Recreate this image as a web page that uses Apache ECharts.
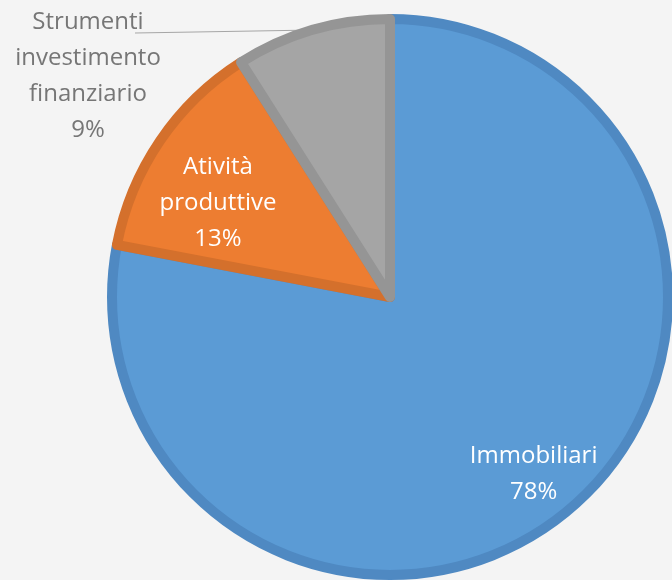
<!DOCTYPE html>
<html>
<head>
<meta charset="utf-8">
<script src="https://cdn.jsdelivr.net/npm/echarts@6/dist/echarts.min.js"></script>
<style>
  html, body { margin: 0; padding: 0; background: #f4f4f4; }
  #chart { width: 672px; height: 580px; }
</style>
</head>
<body>
<div id="chart"></div>
<script>
// dati del grafico
const categories = ['Immobiliari', 'Atività produttive', 'Strumenti investimento finanziario'];
const values = [78, 13, 9];
const fillColors = ['#5b9bd5', '#ed7d31', '#a5a5a5'];
const borderColors = ['#4f89c2', '#d4702c', '#959595'];

const cx = 390, cy = 297;
// quanto spingere verso l'esterno le etichette interne
const pushOut = [1.62, 1.32, 1];
const extraShift = [[-3, 0], [-17, 12], [0, 0]];

let chart = echarts.init(document.getElementById('chart'));

let data = categories.map((name, i) => ({
  name: name,
  value: values[i],
  itemStyle: { color: fillColors[i], borderColor: borderColors[i] },
  label: i == 2 ? { position: 'outside', color: '#767676' } : { position: 'inside', color: '#ffffff' }
}));

let option = {
  backgroundColor: '#f4f4f4',
  animation: false,
  series: [{
    type: 'pie',
    center: [cx, cy],
    radius: 278,
    startAngle: 90,
    clockwise: true,
    itemStyle: { borderWidth: 10, borderJoin: 'round' },
    label: {
      show: true,
      fontFamily: 'Open Sans',
      fontSize: 24,
      lineHeight: 36,
      align: 'center',
      formatter: p => p.name.split(' ').join('\n') + '\n' + p.value + '%'
    },
    labelLine: { show: true, length: 0, length2: 10, lineStyle: { color: '#a6a6a6', width: 1 } },
    labelLayout: function (params) {
      let i = params.dataIndex;
      let r = params.labelRect;
      if (i == 2) {
        return {
          x: 88, y: 4, align: 'center', verticalAlign: 'top',
          labelLinePoints: [params.labelLinePoints[0], [135, 33]]
        };
      }
      let lx = r.x + r.width / 2, ly = r.y + r.height / 2;
      return {
        dx: (pushOut[i] - 1) * (lx - cx) + extraShift[i][0],
        dy: (pushOut[i] - 1) * (ly - cy) + extraShift[i][1]
      };
    },
    data: data
  }]
};

chart.setOption(option);
</script>
</body>
</html>
